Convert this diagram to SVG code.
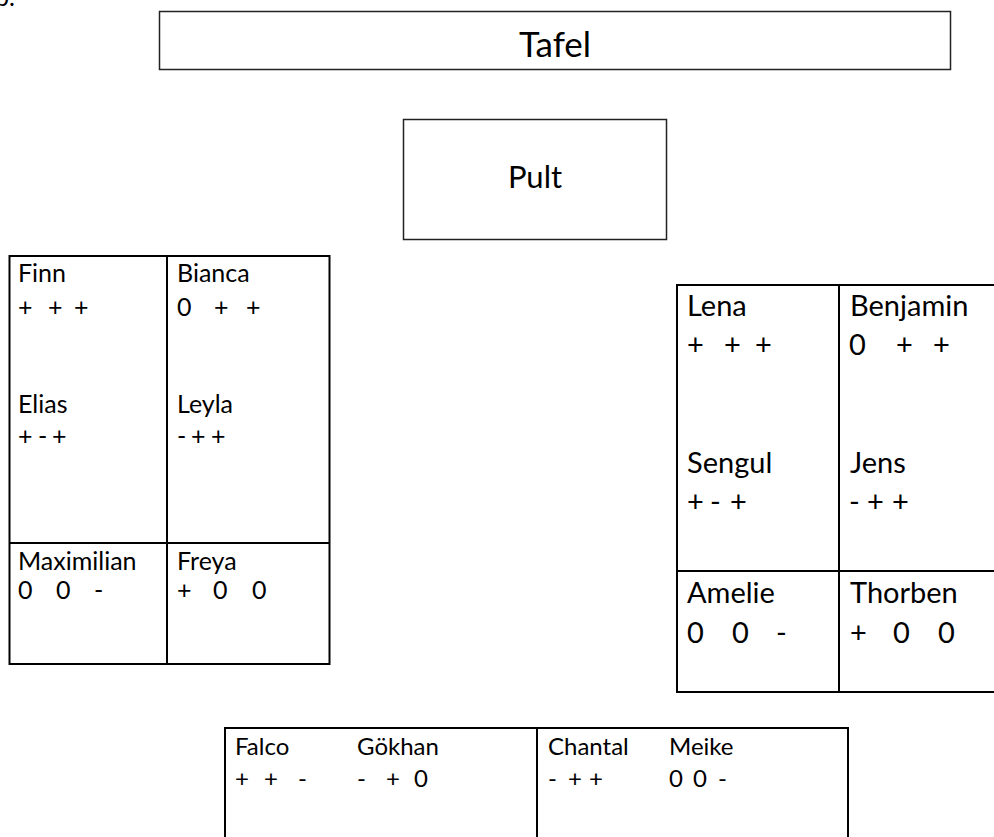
<svg xmlns="http://www.w3.org/2000/svg" width="994" height="837" viewBox="0 0 994 837">
  <style>
    text { font-family: Lato, "Liberation Sans", sans-serif; fill: #000; }
    .box { fill: #fff; stroke: #222; stroke-width: 1.5; }
    .tbl { fill: #fff; stroke: #000; stroke-width: 2; }
    .rule { stroke: #000; stroke-width: 2; }
    .s { font-size: 25px; }
    .b { font-size: 24px; }
    .m { font-size: 29px; }
    .big { font-size: 35px; text-anchor: middle; }
    .pult { font-size: 31px; text-anchor: middle; }
  </style>
  <rect width="994" height="837" fill="#fff"/>

  <!-- page fragment at the top edge -->
  <text class="s" x="-5" y="6">p.</text>

  <!-- board -->
  <g id="tafel">
    <rect class="box" x="159.5" y="11.5" width="791" height="58"/>
    <text class="big" x="555" y="57">Tafel</text>
  </g>

  <!-- teacher desk -->
  <g id="pult">
    <rect class="box" x="403.5" y="119.5" width="263" height="120"/>
    <text class="pult" x="535" y="188">Pult</text>
  </g>

  <!-- left desk block -->
  <g id="tisch-links">
    <rect class="tbl" x="9.5" y="256" width="320" height="408"/>
    <line class="rule" x1="167" y1="256" x2="167" y2="664"/>
    <line class="rule" x1="9.5" y1="543" x2="329.5" y2="543"/>
    <g id="finn">
      <text class="s" x="18" y="282">Finn</text>
      <text class="s" y="316"><tspan x="18">+ </tspan><tspan x="48">+ </tspan><tspan x="74">+</tspan></text>
    </g>
    <g id="bianca">
      <text class="s" x="177" y="282">Bianca</text>
      <text class="s" y="316"><tspan x="177">0 </tspan><tspan x="214">+ </tspan><tspan x="246">+</tspan></text>
    </g>
    <g id="elias">
      <text class="s" x="18" y="413">Elias</text>
      <text class="s" y="445"><tspan x="18">+ </tspan><tspan x="38">- </tspan><tspan x="52">+</tspan></text>
    </g>
    <g id="leyla">
      <text class="s" x="177" y="413">Leyla</text>
      <text class="s" y="445"><tspan x="177">- </tspan><tspan x="191">+ </tspan><tspan x="211">+</tspan></text>
    </g>
    <g id="maximilian">
      <text class="s" x="18" y="570">Maximilian</text>
      <text class="s" y="599"><tspan x="18">0 </tspan><tspan x="56">0 </tspan><tspan x="94">-</tspan></text>
    </g>
    <g id="freya">
      <text class="s" x="177" y="570">Freya</text>
      <text class="s" y="599"><tspan x="177">+ </tspan><tspan x="213">0 </tspan><tspan x="252">0</tspan></text>
    </g>
  </g>

  <!-- right desk block -->
  <g id="tisch-rechts">
    <rect class="tbl" x="677" y="285" width="330" height="407"/>
    <line class="rule" x1="839" y1="285" x2="839" y2="692"/>
    <line class="rule" x1="677" y1="571" x2="1000" y2="571"/>
    <g id="lena">
      <text class="m" x="687" y="316">Lena</text>
      <text class="m" y="355"><tspan x="687">+ </tspan><tspan x="724">+ </tspan><tspan x="755">+</tspan></text>
    </g>
    <g id="benjamin">
      <text class="m" x="850" y="316">Benjamin</text>
      <text class="m" y="355"><tspan x="849">0 </tspan><tspan x="896">+ </tspan><tspan x="933">+</tspan></text>
    </g>
    <g id="sengul">
      <text class="m" x="687" y="473">Sengul</text>
      <text class="m" y="512"><tspan x="687">+ </tspan><tspan x="710">- </tspan><tspan x="730">+</tspan></text>
    </g>
    <g id="jens">
      <text class="m" x="850" y="473">Jens</text>
      <text class="m" y="512"><tspan x="849">- </tspan><tspan x="867">+ </tspan><tspan x="892">+</tspan></text>
    </g>
    <g id="amelie">
      <text class="m" x="687" y="603">Amelie</text>
      <text class="m" y="643"><tspan x="687">0 </tspan><tspan x="732">0 </tspan><tspan x="776">-</tspan></text>
    </g>
    <g id="thorben">
      <text class="m" x="850" y="603">Thorben</text>
      <text class="m" y="643"><tspan x="850">+ </tspan><tspan x="893">0 </tspan><tspan x="938">0</tspan></text>
    </g>
  </g>

  <!-- back desk block -->
  <g id="tisch-hinten">
    <rect class="tbl" x="225" y="728" width="623" height="130"/>
    <line class="rule" x1="537" y1="728" x2="537" y2="860"/>
    <g id="falco">
      <text class="b" x="235" y="755">Falco</text>
      <text class="b" y="787"><tspan x="235">+ </tspan><tspan x="264">+ </tspan><tspan x="298">-</tspan></text>
    </g>
    <g id="goekhan">
      <text class="b" x="357" y="755">Gökhan</text>
      <text class="b" y="787"><tspan x="357">- </tspan><tspan x="386">+ </tspan><tspan x="414">0</tspan></text>
    </g>
    <g id="chantal">
      <text class="b" x="548" y="755">Chantal</text>
      <text class="b" y="787"><tspan x="548">- </tspan><tspan x="568">+ </tspan><tspan x="589">+</tspan></text>
    </g>
    <g id="meike">
      <text class="b" x="669" y="755">Meike</text>
      <text class="b" y="787"><tspan x="669">0 </tspan><tspan x="693">0 </tspan><tspan x="718">-</tspan></text>
    </g>
  </g>

  <g id="connectors"/>
</svg>
